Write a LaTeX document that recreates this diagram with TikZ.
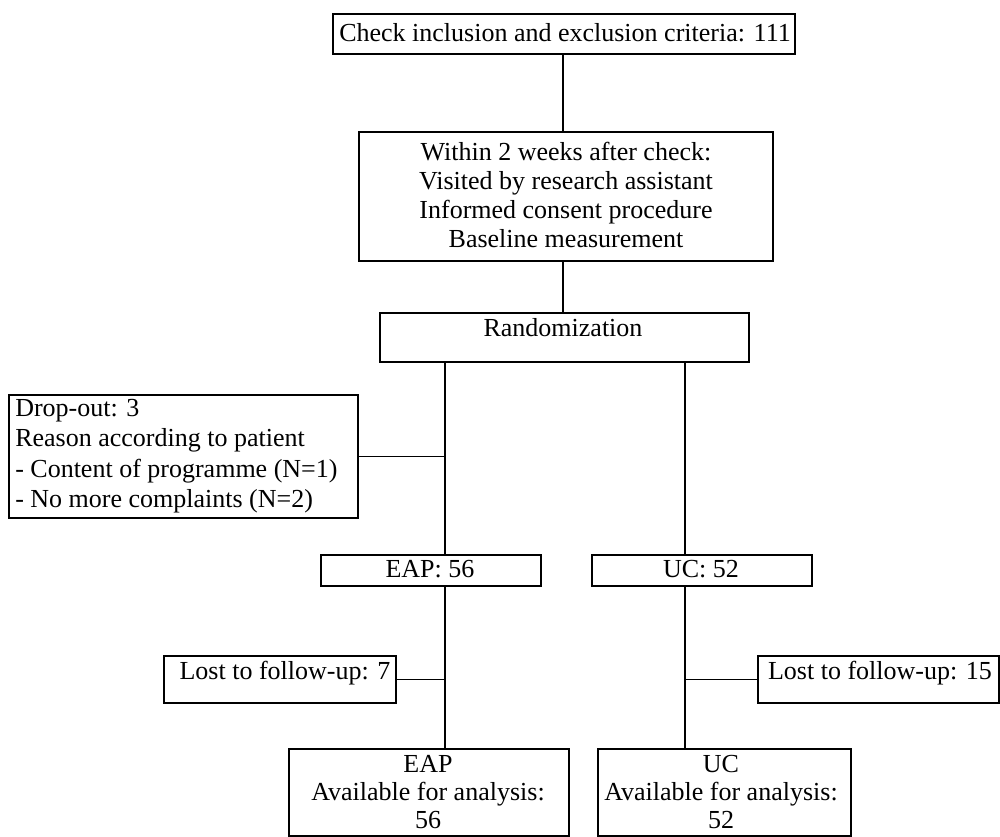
\documentclass[tikz,border=0pt]{standalone}
\usepackage{fontspec}
\setmainfont{Liberation Serif}
\begin{document}
\begin{tikzpicture}[x=0.75pt,y=-0.75pt,
  box/.style={draw, line width=1.4pt, anchor=north west, inner sep=0pt},
  txt/.style={inner sep=0pt, font=\fontsize{19.5}{21.75}\selectfont, align=center},
  conn/.style={line width=1.4pt}]
\useasboundingbox (0,0) rectangle (1000,836);
% boxes
\node[box, minimum width=346.5pt, minimum height=30pt] (b1) at (332,13) {};
\node[box, minimum width=310.5pt, minimum height=96.75pt] (b2) at (358,131) {};
\node[box, minimum width=276.75pt, minimum height=36.75pt] (rand) at (379,312) {};
\node[box, minimum width=261.75pt, minimum height=92.25pt] (drop) at (8,394) {};
\node[box, minimum width=165pt, minimum height=23.25pt] (eap) at (320,554) {};
\node[box, minimum width=165pt, minimum height=23.25pt] (uc) at (591,554) {};
\node[box, minimum width=174pt, minimum height=35.25pt] (lost7) at (163,655) {};
\node[box, minimum width=180.75pt, minimum height=35.25pt] (lost15) at (757,655) {};
\node[box, minimum width=210pt, minimum height=65.25pt] (eapA) at (288,748) {};
\node[box, minimum width=189.75pt, minimum height=65.25pt] (ucA) at (597,748) {};
% texts
\node[txt] (t1) at (565,33) {Check inclusion and exclusion criteria: 111};
\node[txt] (t2) at (566,195) {Within 2 weeks after check:\\Visited by research assistant\\Informed consent procedure\\Baseline measurement};
\node[txt] (t3) at (563,328) {Randomization};
\node[txt, anchor=west, align=left, font=\fontsize{19.5}{22.75}\selectfont] (t4) at (15,456) {Drop-out: 3\\Reason according to patient\\- Content of programme (N=1)\\- No more complaints (N=2)};
\node[txt] (t5) at (430,569) {EAP: 56};
\node[txt] (t6) at (701,569) {UC: 52};
\node[txt] (t7) at (285,673) {Lost to follow-up: 7};
\node[txt] (t8) at (880,673) {Lost to follow-up: 15};
\node[txt, font=\fontsize{19.5}{21}\selectfont] (t9) at (428,792) {EAP\\Available for analysis:\\56};
\node[txt, font=\fontsize{19.5}{21}\selectfont] (t10) at (721,792) {UC\\Available for analysis:\\52};
% connector coordinates
\coordinate (xm) at (563,0);
\coordinate (xl) at (445,0);
\coordinate (xr) at (685,0);
% connectors
\draw[conn] (b1.south -| xm) -- (b2.north -| xm);
\draw[conn] (b2.south -| xm) -- (rand.north -| xm);
\draw[conn] (rand.south -| xl) -- (eap.north -| xl);
\draw[conn] (rand.south -| xr) -- (uc.north -| xr);
\draw[conn] (drop.east) -- (drop.east -| xl);
\draw[conn] (eap.south -| xl) -- (eapA.north -| xl);
\draw[conn] (uc.south -| xr) -- (ucA.north -| xr);
\draw[conn] (lost7.east) -- (lost7.east -| xl);
\draw[conn] (lost15.west) -- (lost15.west -| xr);
\end{tikzpicture}
\end{document}
